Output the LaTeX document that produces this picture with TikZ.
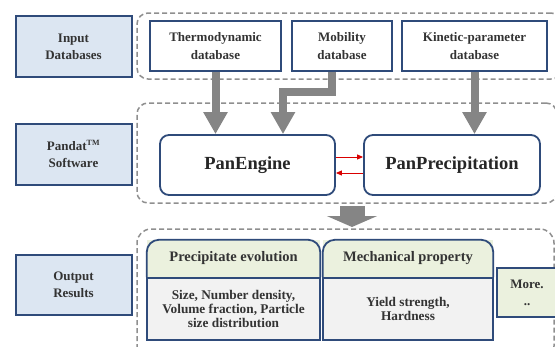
\documentclass[tikz,border=0pt]{standalone}
\usepackage{fontspec}
\setmainfont{Liberation Serif}
\usetikzlibrary{arrows.meta}

\definecolor{navy}{HTML}{2F4B7A}
\definecolor{lblblue}{HTML}{DCE6F2}
\definecolor{hdrgreen}{HTML}{EBF1DE}
\definecolor{bodygray}{HTML}{F2F2F2}
\definecolor{dashgray}{HTML}{8F8F8F}
\definecolor{arrowgray}{HTML}{858585}
\definecolor{txt}{HTML}{333333}

\tikzset{
  lblbox/.style={draw=navy, line width=2pt, fill=lblblue, minimum width=116, minimum height=61,
    align=center, text=txt, font=\fontsize{13}{17}\selectfont\bfseries},
  dbbox/.style={draw=navy, line width=1.8pt, fill=white, minimum height=50,
    align=center, text=txt, font=\fontsize{13}{18}\selectfont\bfseries},
  engbox/.style={draw=navy, line width=1.8pt, fill=white, rounded corners=9pt, minimum height=60,
    text=black!85, font=\fontsize{18.5}{20}\selectfont\bfseries},
  grp/.style={draw=dashgray, line width=1.5pt, dash pattern=on 5pt off 3pt, rounded corners=11pt},
  hdrbox/.style={fill=hdrgreen, minimum height=37, text=txt, font=\fontsize{14.5}{16}\selectfont\bfseries},
  bodybox/.style={draw=navy, line width=1.8pt, fill=bodygray, minimum height=62,
    align=center, text=txt, font=\fontsize{13.3}{13.8}\selectfont\bfseries},
  hdrline/.style={draw=navy, line width=1.8pt},
  garrow/.style={draw=arrowgray, line width=8pt, -{Triangle[width=23pt,length=22pt]}},
  rarrow/.style={draw=red!85!black, line width=0.9pt, -{Triangle[width=5pt,length=6pt]}}
}

\begin{document}
\begin{tikzpicture}[x=1pt,y=1pt]
  \useasboundingbox (0,0) rectangle (555,-346);
  \clip (0,0) rectangle (555,-346);

  % row labels
  \node[lblbox] (lblin) at (73.5,-46.5) {Input\\Databases};
  \node[lblbox] (lblsw) at (73.5,-154) {Pandat\textsuperscript{\fontsize{8}{8}\selectfont TM}\\Software};
  \node[lblbox, minimum height=60] (lblout) at (73.5,-285) {Output\\Results};

  % dashed groups
  \node[grp, minimum width=425, minimum height=66] (gin) at (349.5,-46) {};
  \node[grp, minimum width=420, minimum height=100] (gsw) at (347,-153) {};
  \node[grp, rounded corners=14pt, minimum width=417, minimum height=131] (gout) at (345.5,-294.5) {};

  % databases
  \node[dbbox, minimum width=131] (thermo) at (215.5,-46) {Thermodynamic\\database};
  \node[dbbox, minimum width=100] (mob) at (342,-46) {Mobility\\database};
  \node[dbbox, minimum width=145] (kin) at (474.5,-46) {Kinetic-parameter\\database};

  % software
  \node[engbox, minimum width=175] (pe) at (247.5,-165) {PanEngine};
  \node[engbox, minimum width=176] (pp) at (452,-165) {PanPrecipitation};

  \draw[rarrow] ([yshift=8pt]pe.east) -- ([yshift=8pt]pe.east -| pp.west);
  \draw[rarrow] ([yshift=-8pt]pp.west) -- ([yshift=-8pt]pp.west -| pe.east);

  % database arrows
  \coordinate (mobbend) at (283,-92);
  \draw[garrow] (thermo.south) -- (thermo.south |- pe.north);
  \draw[garrow] ([xshift=-10pt]mob.south) |- (mobbend) -- (mobbend |- pe.north);
  \draw[garrow] (kin.south) -- (kin.south |- pp.north);

  \coordinate (bigtop) at (352,-206);
  \coordinate (bigtip) at (352,-227);
  \draw[draw=arrowgray, line width=25pt, -{Triangle[width=50pt,length=11pt]}] (bigtop) -- (bigtip);

  % results
  \node[hdrbox, minimum width=173] (prech) at (233.5,-258.5) {Precipitate evolution};
  \node[bodybox, minimum width=173, anchor=north] (precb) at (prech.south) {Size, Number density,\\Volume fraction, Particle\\size distribution};
  \draw[hdrline] (prech.south west) -- ([yshift=-12pt]prech.north west)
    arc[start angle=180, end angle=90, radius=12pt] -- ([xshift=-12pt]prech.north east)
    arc[start angle=90, end angle=0, radius=12pt] -- (prech.south east);

  \node[hdrbox, minimum width=170] (mechh) at (408,-258.5) {Mechanical property};
  \node[bodybox, minimum width=170, anchor=north] (mechb) at (mechh.south) {Yield strength,\\Hardness};
  \draw[hdrline] (mechh.south west) -- ([yshift=-12pt]mechh.north west)
    arc[start angle=180, end angle=90, radius=12pt] -- ([xshift=-12pt]mechh.north east)
    arc[start angle=90, end angle=0, radius=12pt] -- (mechh.south east);

  \node[draw=navy, line width=1.8pt, fill=hdrgreen, minimum width=60, minimum height=49, align=center,
    text=txt, font=\fontsize{13}{17}\selectfont\bfseries] (more) at (527,-292.5) {More.\\..};
\end{tikzpicture}
\end{document}
